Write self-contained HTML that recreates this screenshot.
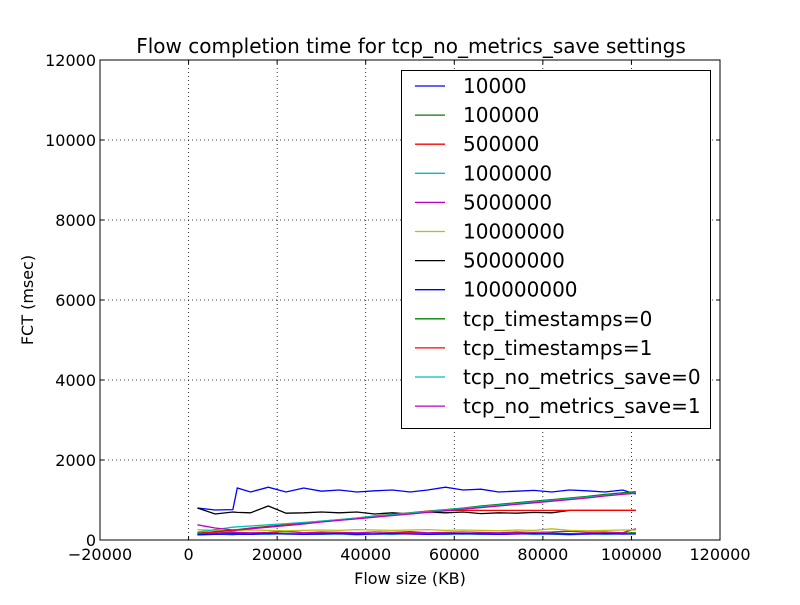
<!DOCTYPE html>
<html><head><meta charset="utf-8"><style>
body{margin:0;background:#fff}
svg text{font-family:"DejaVu Sans","Liberation Sans",sans-serif}
</style></head><body>
<svg id="c" width="800" height="600" xmlns="http://www.w3.org/2000/svg">
<rect width="800" height="600" fill="#fff"/>
<g id="grid"></g><g id="marks"></g><g id="axes"></g><g id="legend"></g>
</svg>
<script>
const xsKB=[2000,6000,10000,11000,14000,18000,22000,26000,30000,34000,38000,42000,46000,50000,54000,58000,62000,66000,70000,74000,78000,82000,86000,90000,94000,98000,101000];
const s10000=[800,750,760,1300,1200,1320,1200,1300,1220,1250,1200,1230,1250,1200,1250,1320,1250,1270,1200,1220,1240,1200,1250,1230,1200,1250,1150];
const s100000=[150,160,180,175,170,160,170,150,160,170,160,150,170,160,150,170,160,150,170,160,150,170,160,150,160,170,180];
const s500000=[130,150,160,150,140,180,150,160,170,150,160,150,160,180,170,160,150,170,160,180,150,160,150,160,170,150,160];
const s1000000=[140,150,130,140,150,140,160,150,140,150,130,150,140,160,150,140,150,140,150,160,140,150,130,150,140,150,160];
const s5000000=[160,170,200,190,180,190,220,180,200,190,180,200,190,210,180,190,200,190,180,200,190,200,220,190,200,180,280];
const s10000000=[260,240,230,240,250,240,230,240,250,240,260,250,240,250,260,240,250,240,230,250,240,280,240,230,240,250,250];
const s50000000=[800,650,700,690,680,850,670,680,700,680,700,650,680,650,700,680,700,660,680,670,690,680,740,740,740,740,740];
const s100000000=[130,140,150,145,140,160,150,140,150,160,140,150,160,150,140,150,160,150,140,150,160,150,140,150,160,150,150];
const sTs0=[170,210,250,260,300,340,380,430,470,510,550,600,640,680,720,760,800,850,890,930,970,1010,1050,1090,1140,1180,1210];
const sTs1=[160,200,240,250,290,330,370,420,460,500,540,590,630,670,720,740,740,740,740,740,740,740,740,740,740,740,740];
const sNm0=[200,260,320,330,350,380,410,440,470,510,550,590,630,670,710,750,790,830,870,910,950,990,1030,1070,1110,1150,1180];
const sNm1=[380,300,250,255,280,320,360,400,450,490,530,570,610,650,690,730,770,810,850,890,930,970,1010,1050,1100,1140,1170];
const seriesNames=["10000","100000","500000","1000000","5000000","10000000","50000000","100000000","tcp_timestamps=0","tcp_timestamps=1","tcp_no_metrics_save=0","tcp_no_metrics_save=1"];
const seriesData=[s10000,s100000,s500000,s1000000,s5000000,s10000000,s50000000,s100000000,sTs0,sTs1,sNm0,sNm1];
const colors=["#0000ff","#007f00","#ff0000","#00bfbf","#bf00bf","#bfbf00","#000000","#0000ff","#008000","#ff0000","#00bfbf","#bf00bf"];
const xTicks=[-20000,0,20000,40000,60000,80000,100000,120000];
const yTicks=[0,2000,4000,6000,8000,10000,12000];
const L=100,R=720,T=60,B=540;
const X=v=>L+(v+20000)/140000*(R-L);
const Y=v=>B-v/12000*(B-T);
const NS="http://www.w3.org/2000/svg";
function mk(t,a,p){const e=document.createElementNS(NS,t);for(const k in a)e.setAttribute(k,a[k]);p.appendChild(e);return e;}
const grid=document.getElementById('grid'),marks=document.getElementById('marks'),axes=document.getElementById('axes'),leg=document.getElementById('legend');
xTicks.forEach(v=>{const x=X(v);
 const g=mk('line',{x1:x,x2:x,y1:T,y2:B,stroke:'#000','stroke-dasharray':'1,3','stroke-width':0.8},grid);
 
 
 mk('line',{x1:x,x2:x,y1:B,y2:B-4,stroke:'#000'},axes);
 mk('line',{x1:x,x2:x,y1:T,y2:T+4,stroke:'#000'},axes);
 const t=mk('text',{x:x,y:B+20,'text-anchor':'middle','font-size':16},axes);t.textContent=(v<0?'\u2212'+(-v):v);
 
 
});
yTicks.forEach(v=>{const y=Y(v);
 const g=mk('line',{x1:L,x2:R,y1:y,y2:y,stroke:'#000','stroke-dasharray':'1,3','stroke-width':0.8},grid);
 
 
 mk('line',{x1:L,x2:L+4,y1:y,y2:y,stroke:'#000'},axes);
 mk('line',{x1:R,x2:R-4,y1:y,y2:y,stroke:'#000'},axes);
 const t=mk('text',{x:L-4,y:y+6,'text-anchor':'end','font-size':16},axes);t.textContent=v;
 
 
});
seriesData.forEach((d,i)=>{
 const p=mk('polyline',{points:d.map((v,j)=>X(xsKB[j])+','+Y(v)).join(' '),fill:'none',stroke:colors[i],'stroke-width':1.3},marks);
 
 
});
const fr=mk('rect',{x:L,y:T,width:R-L,height:B-T,fill:'none',stroke:'#000','stroke-width':1},axes);


const title=mk('text',{x:411,y:53,'text-anchor':'middle','font-size':20},axes);title.textContent='Flow completion time for tcp_no_metrics_save settings';


const xl=mk('text',{x:410,y:584,'text-anchor':'middle','font-size':16},axes);xl.textContent='Flow size (KB)';


const yl=mk('text',{x:33,y:300,'text-anchor':'middle','font-size':16,transform:'rotate(-90 33 300)'},axes);yl.textContent='FCT (msec)';


const lb=mk('rect',{x:401.5,y:70.5,width:309,height:358,fill:'#fff',stroke:'#000'},leg);


seriesNames.forEach((n,i)=>{const y=86+i*29.1;
 mk('line',{x1:415,x2:445,y1:y,y2:y,stroke:colors[i],'stroke-width':1.3},leg);
 const t=mk('text',{x:463,y:y+7,'font-size':20},leg);t.textContent=n;
 
 
});
</script>
</body></html>
